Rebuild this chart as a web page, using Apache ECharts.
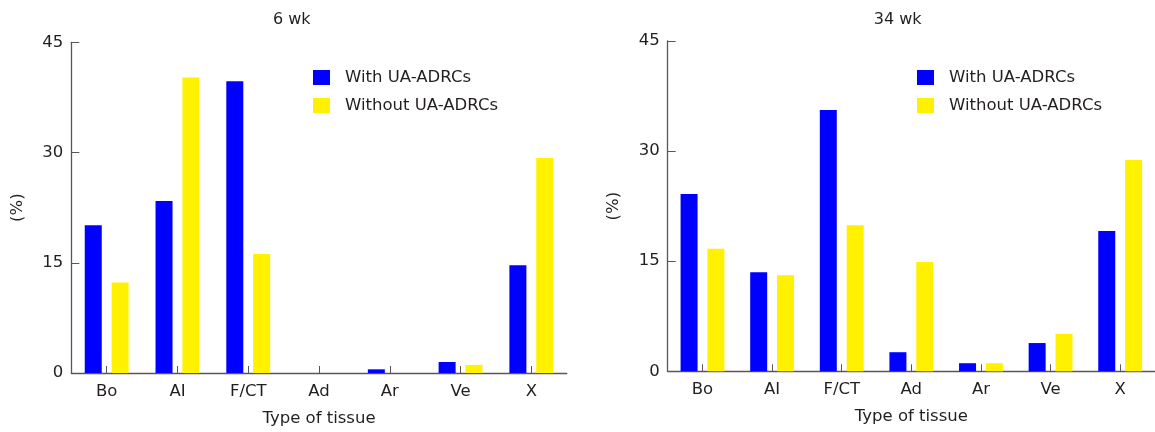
<!DOCTYPE html>
<html>
<head>
<meta charset="utf-8">
<script src="https://cdn.jsdelivr.net/npm/echarts@6/dist/echarts.min.js"></script>
<style>
html,body{margin:0;padding:0;background:#fff;}
#c{width:1155px;height:432px;}
</style>
</head>
<body>
<div id="c"></div>
<script>
const categories = ['Bo', 'AI', 'F/CT', 'Ad', 'Ar', 'Ve', 'X'];
const seriesNames = ['With UA-ADRCs', 'Without UA-ADRCs'];
const panelTitles = ['6 wk', '34 wk'];
const yTicks = [0, 15, 30, 45];
const with6 = [20.1, 23.4, 39.7, 0, 0.5, 1.5, 14.65];
const without6 = [12.3, 40.2, 16.2, 0, 0, 1.1, 29.25];
const with34 = [24.15, 13.5, 35.6, 2.6, 1.1, 3.85, 19.1];
const without34 = [16.7, 13.1, 19.9, 14.9, 1.1, 5.1, 28.8];

const FONT = 'DejaVu Sans';
const FS = 16.5;
const TXT = '#231f20';
const AX = '#5c5557';
const BLUE = '#0000ff';
const YELLOW = '#fff100';

const chart = echarts.init(document.getElementById('c'), null, {renderer: 'canvas'});

function xAxisOf(i) {
  return {
    type: 'category', gridIndex: i, data: categories,
    axisLine: {lineStyle: {color: AX, width: 1.3}},
    axisTick: {show: true, inside: true, alignWithLabel: true, length: 7, lineStyle: {color: AX}},
    axisLabel: {color: TXT, fontFamily: FONT, fontSize: FS, margin: 10},
    name: 'Type of tissue', nameLocation: 'middle', nameGap: 37,
    nameTextStyle: {color: TXT, fontFamily: FONT, fontSize: FS}
  };
}
function yAxisOf(i) {
  return {
    type: 'value', gridIndex: i, min: yTicks[0], max: yTicks[yTicks.length - 1], interval: 15,
    axisLine: {show: true, lineStyle: {color: AX, width: 1.3}},
    axisTick: {show: true, inside: true, length: 8, lineStyle: {color: AX}},
    splitLine: {show: false},
    axisLabel: {color: TXT, fontFamily: FONT, fontSize: FS, margin: 8},
    name: '(%)', nameLocation: 'middle', nameRotate: 90, nameGap: 45,
    nameTextStyle: {color: TXT, fontFamily: FONT, fontSize: FS}
  };
}
function bar(name, data, i, color) {
  return {
    type: 'bar', name: name, data: data, xAxisIndex: i, yAxisIndex: i,
    barWidth: 17, barGap: '58%', itemStyle: {color: color},
    emphasis: {disabled: true}, animation: false
  };
}
function legendOf(left) {
  return {
    orient: 'vertical', left: left, top: 69, padding: 0, itemWidth: 17, itemHeight: 15, itemGap: 11,
    icon: 'rect', data: seriesNames, selectedMode: false,
    textStyle: {color: TXT, fontFamily: FONT, fontSize: FS, padding: [0, 0, 0, 10]}
  };
}

chart.setOption({
  animation: false,
  backgroundColor: '#fff',
  title: [
    {text: panelTitles[0], left: 291.7, top: 12, padding: 0, textAlign: 'center',
     textStyle: {color: TXT, fontFamily: FONT, fontSize: 16, fontWeight: 'normal'}},
    {text: panelTitles[1], left: 897.7, top: 12, padding: 0, textAlign: 'center',
     textStyle: {color: TXT, fontFamily: FONT, fontSize: 16, fontWeight: 'normal'}}
  ],
  legend: [legendOf(313), legendOf(917)],
  grid: [
    {left: 71.3, top: 42.3, width: 495.4, bottom: 59},
    {left: 667.7, top: 41, width: 493.2, bottom: 60.7}
  ],
  xAxis: [xAxisOf(0), xAxisOf(1)],
  yAxis: [yAxisOf(0), yAxisOf(1)],
  series: [
    bar(seriesNames[0], with6, 0, BLUE),
    bar(seriesNames[1], without6, 0, YELLOW),
    bar(seriesNames[0], with34, 1, BLUE),
    bar(seriesNames[1], without34, 1, YELLOW)
  ]
});
</script>
</body>
</html>
